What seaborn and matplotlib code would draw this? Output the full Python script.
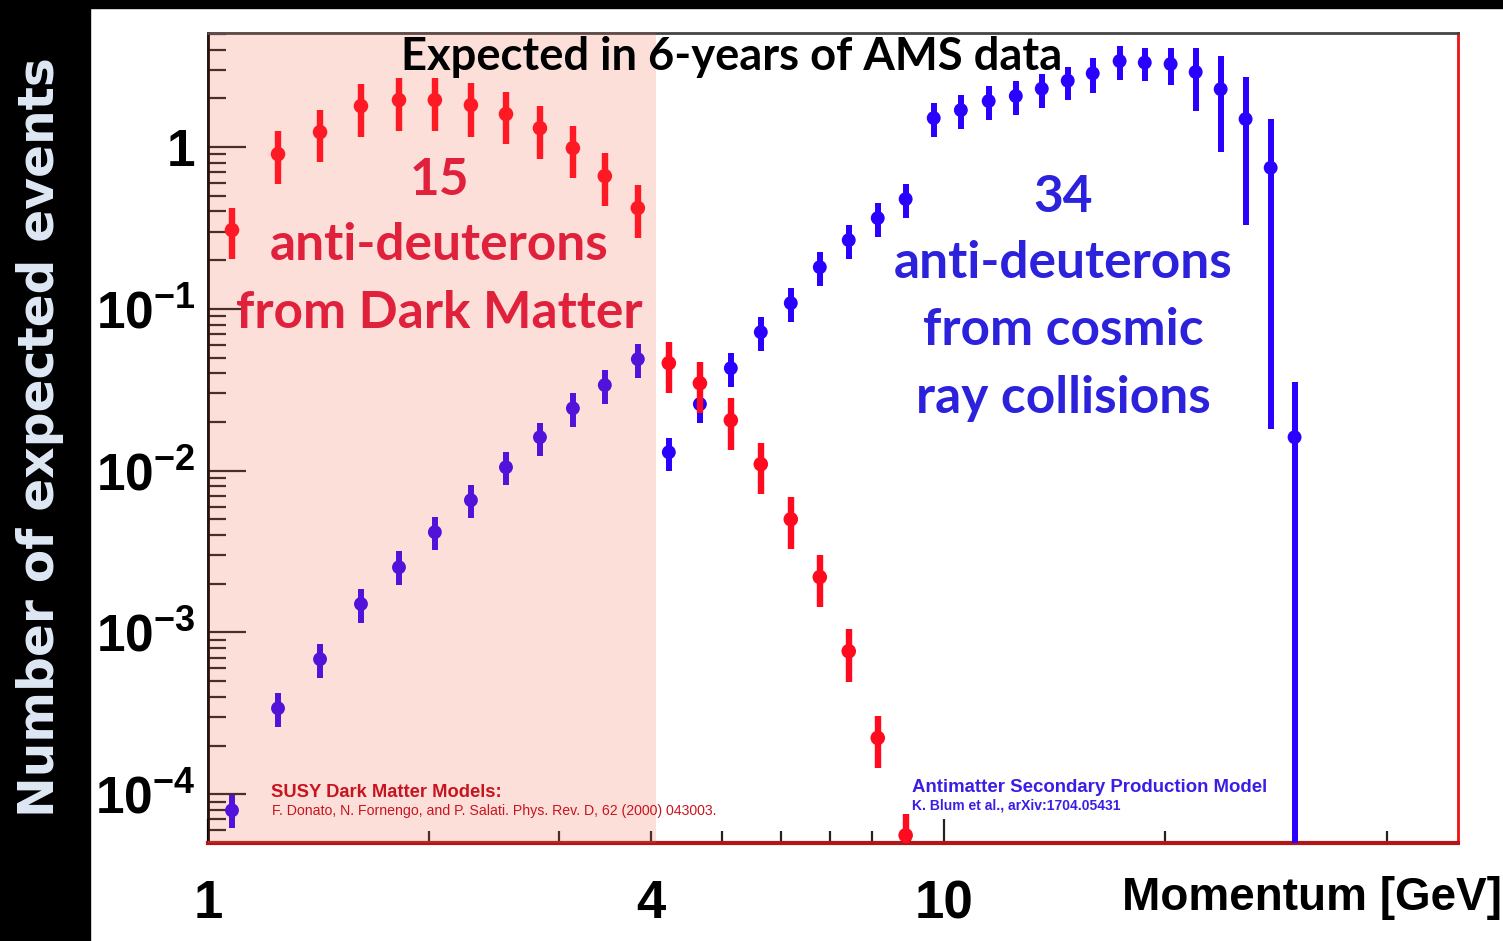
import numpy as np
import pandas as pd
import matplotlib
matplotlib.use("Agg")
import matplotlib.pyplot as plt
import seaborn as sns
from matplotlib.patches import Rectangle
from matplotlib.ticker import FixedLocator, FixedFormatter, FuncFormatter

# ---------------- data ----------------
momentum = [1.078, 1.245, 1.420, 1.614, 1.818, 2.034, 2.277, 2.541, 2.826, 3.133,
            3.462, 3.839, 4.230, 4.662, 5.136, 5.641, 6.196, 6.785, 7.428, 8.134,
            8.876, 9.691, 10.55, 11.51, 12.53, 13.59, 14.74, 15.94, 17.34, 18.76,
            20.34, 22.00, 23.79, 25.72, 27.82, 29.98]

# anti-deuterons from Dark Matter (first 21 momentum bins)
dm_events = [0.307, 0.905, 1.238, 1.793, 1.953, 1.953, 1.818, 1.60, 1.31, 0.986,
             0.662, 0.42, 0.0462, 0.0347, 0.0205, 0.01097, 0.00501, 0.0022, 0.000766,
             0.000223, 5.58e-5]
dm_err_lo = [0.104, 0.315, 0.43, 0.64, 0.70, 0.69, 0.665, 0.556, 0.467, 0.343,
             0.23, 0.146, 0.0161, 0.012, 0.0071, 0.0038, 0.00174, 0.00077, 0.000273,
             7.8e-5, 2.0e-5]
dm_err_hi = [0.113, 0.351, 0.455, 0.656, 0.72, 0.72, 0.67, 0.588, 0.483, 0.363,
             0.256, 0.162, 0.0161, 0.0125, 0.0076, 0.0038, 0.00185, 0.0008, 0.00028,
             8.0e-5, 2.0e-5]

# anti-deuterons from cosmic ray collisions (all 36 bins)
cr_events = [7.96e-5, 3.40e-4, 6.84e-4, 1.50e-3, 2.53e-3, 4.17e-3, 6.57e-3, 0.0105, 0.0161,
             0.0243, 0.0338, 0.0489, 0.0130, 0.0258, 0.0430, 0.0718, 0.1085, 0.181, 0.266,
             0.364, 0.477, 1.511, 1.693, 1.925, 2.067, 2.294, 2.57, 2.855, 3.40, 3.33,
             3.26, 2.91, 2.28, 1.49, 0.745, 0.0161]
cr_err_lo = [1.8e-5, 8.0e-5, 1.63e-4, 3.6e-4, 5.7e-4, 9.5e-4, 1.5e-3, 0.0024, 0.0038,
             0.0057, 0.008, 0.0115, 0.003, 0.006, 0.0102, 0.017, 0.026, 0.043, 0.063,
             0.087, 0.114, 0.36, 0.40, 0.46, 0.49, 0.55, 0.62, 0.69, 0.8, 0.78,
             0.84, 1.24, 1.35, 1.16, 0.727, 0.01609]
cr_err_hi = [1.9e-5, 8.1e-5, 1.62e-4, 3.5e-4, 6.5e-4, 9.9e-4, 1.56e-3, 0.0025, 0.0036,
             0.0058, 0.008, 0.0115, 0.0029, 0.006, 0.0102, 0.017, 0.026, 0.043, 0.063,
             0.087, 0.114, 0.36, 0.40, 0.46, 0.49, 0.55, 0.57, 0.68, 0.8, 0.74,
             0.81, 1.18, 1.37, 1.22, 0.745, 0.019]

dm_region_end = 4.06
y_ticks = [1e-4, 1e-3, 1e-2, 1e-1, 1]
y_tick_labels = [r"$10^{-4}$", r"$10^{-3}$", r"$10^{-2}$", r"$10^{-1}$", "1"]
x_major = [1, 10]
x_major_labels = ["1", "10"]
x_minor = [2, 3, 4, 5, 6, 7, 8, 9, 20, 30, 40]

# ---------------- style ----------------
sns.set_theme(style="white")
plt.rcParams["font.family"] = ["Liberation Sans", "DejaVu Sans"]
plt.rcParams["mathtext.fontset"] = "custom"
plt.rcParams["mathtext.rm"] = "Liberation Sans:bold"
plt.rcParams["mathtext.bf"] = "Liberation Sans:bold"
plt.rcParams["mathtext.it"] = "Liberation Sans:bold"
plt.rcParams["mathtext.default"] = "bf"

RED = "#ff0a1e"
BLUE = "#2a00ff"

W, H = 1503, 941
fig = plt.figure(figsize=(W / 100, H / 100), dpi=100)
fig.patch.set_facecolor("white")
fig.patches.append(Rectangle((0, 0), 90 / W, 1, transform=fig.transFigure,
                             color="black", zorder=0))
fig.patches.append(Rectangle((0, 1 - 8 / H), 1, 8 / H, transform=fig.transFigure,
                             color="black", zorder=0))

ax = fig.add_axes([208 / W, 1 - 843 / H, 1250 / W, 810 / H])
ax.set_facecolor("white")

df_dm = pd.DataFrame({"momentum": momentum[:len(dm_events)], "events": dm_events})
df_cr = pd.DataFrame({"momentum": momentum, "events": cr_events})

ax.errorbar(df_cr["momentum"], df_cr["events"], yerr=[cr_err_lo, cr_err_hi], fmt="none",
            ecolor=BLUE, elinewidth=4.3, capsize=0, zorder=3)
sns.scatterplot(data=df_cr, x="momentum", y="events", ax=ax, color=BLUE, s=100,
                edgecolor="none", linewidth=0, zorder=3, legend=False)
ax.errorbar(df_dm["momentum"], df_dm["events"], yerr=[dm_err_lo, dm_err_hi], fmt="none",
            ecolor=RED, elinewidth=4.6, capsize=0, zorder=4)
sns.scatterplot(data=df_dm, x="momentum", y="events", ax=ax, color=RED, s=110,
                edgecolor="none", linewidth=0, zorder=4, legend=False)

# translucent pink overlay on the dark-matter region
ax.axvspan(1, dm_region_end, color=(245 / 255, 95 / 255, 70 / 255), alpha=0.2,
           lw=0, zorder=6)

ax.set_xscale("log")
ax.set_yscale("log")
ax.set_xlim(1, 50)
ax.set_ylim(5e-5, 5.07)
ax.set_xlabel("")
ax.set_ylabel("")

ax.xaxis.set_major_locator(FixedLocator(x_major))
ax.xaxis.set_major_formatter(FixedFormatter(x_major_labels))
ax.xaxis.set_minor_locator(FixedLocator(x_minor))
ax.xaxis.set_minor_formatter(FuncFormatter(lambda v, p: "4" if abs(v - 4) < 1e-9 else ""))

ax.yaxis.set_major_locator(FixedLocator(y_ticks))
ax.yaxis.set_major_formatter(FixedFormatter(y_tick_labels))
ax.yaxis.set_minor_locator(FixedLocator(
    [m * 10.0 ** e for e in range(-5, 1) for m in range(2, 10)]))
ax.yaxis.set_minor_formatter(FuncFormatter(lambda v, p: ""))

ax.tick_params(axis="x", which="major", direction="in", length=17, width=1.6,
               color="#222222", labelsize=38, pad=26, bottom=True, top=False)
ax.tick_params(axis="x", which="minor", direction="in", length=8.5, width=1.6,
               color="#222222", labelsize=38, pad=26, bottom=True, top=False)
ax.tick_params(axis="y", which="major", direction="in", length=27, width=1.6,
               color="#222222", labelsize=37, pad=9, left=True, right=False)
ax.tick_params(axis="y", which="minor", direction="in", length=13, width=1.6,
               color="#222222", left=True, right=False)
for lab in ax.get_xticklabels(which="both") + ax.get_yticklabels():
    lab.set_fontweight("bold")
    lab.set_color("black")

for side, col, lw in [("top", "#444444", 2.0), ("left", "black", 2.0),
                      ("bottom", "#b01818", 3.0), ("right", "#ee1111", 2.0)]:
    ax.spines[side].set_visible(True)
    ax.spines[side].set_color(col)
    ax.spines[side].set_linewidth(lw)

# ---------------- texts ----------------
def fx(px):
    return px / W


def fy(py):
    return 1 - py / H


big = dict(family=["Lato", "DejaVu Sans"], fontweight="bold", fontsize=37,
           ha="center", va="baseline", zorder=10)
RTXT = "#e0213c"
BTXT = "#2c22dc"
fig.text(fx(732), fy(70), "Expected in 6-years of AMS data", color="black",
         **{**big, "fontsize": 32.7})
for txt, yb in [("15", 195), ("anti-deuterons", 260), ("from Dark Matter", 328)]:
    fig.text(fx(439), fy(yb), txt, color=RTXT, **big)
for txt, yb in [("34", 212), ("anti-deuterons", 278), ("from cosmic", 345),
                ("ray collisions", 413)]:
    fig.text(fx(1063), fy(yb), txt, color=BTXT, **big)

fig.text(fx(271), fy(797), "SUSY Dark Matter Models:", color="#c8141e", fontsize=13.2,
         fontweight="bold", ha="left", va="baseline")
fig.text(fx(272), fy(815),
         "F. Donato, N. Fornengo, and P. Salati. Phys. Rev. D, 62 (2000) 043003.",
         color="#c8141e", fontsize=10.2, ha="left", va="baseline")
fig.text(fx(912), fy(792), "Antimatter Secondary Production Model", color="#3a1ee6",
         fontsize=13.4, fontweight="bold", ha="left", va="baseline")
fig.text(fx(912), fy(809), "K. Blum et al., arXiv:1704.05431", color="#3a1ee6",
         fontsize=10, fontweight="bold", ha="left", va="baseline")

fig.text(fx(1502), fy(910), "Momentum [GeV]", color="black", fontsize=33,
         fontweight="bold", ha="right", va="baseline")
fig.text(fx(40), fy(437), "Number of expected events", color="#dfe8f5", fontsize=35,
         fontweight="bold", family=["DejaVu Sans"], rotation=90, ha="center",
         va="center")

fig.savefig("out.png", dpi=100, facecolor=fig.get_facecolor())
